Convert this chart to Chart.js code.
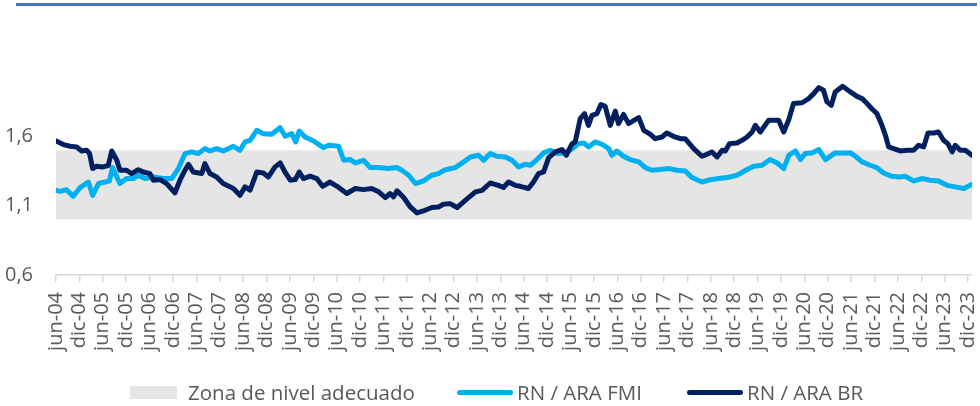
<!DOCTYPE html>
<html>
<head>
<meta charset="utf-8">
<script src="https://cdn.jsdelivr.net/npm/chart.js@4.4.1/dist/chart.umd.min.js"></script>
<style>
  html, body { margin: 0; padding: 0; background: #fff; }
  #wrap { position: relative; width: 980px; height: 406px; overflow: hidden; font-family: "Open Sans", sans-serif; color: #595959; }
  #topline { position: absolute; left: 16px; top: 3px; width: 961px; height: 3px; background: #4472C4; }
  canvas { position: absolute; left: 0; top: 0; }
  .lg { position: absolute; top: 380px; height: 24px; line-height: 24px; font-size: 20.5px; white-space: nowrap; }
  .box { position: absolute; top: 386px; left: 130px; width: 47px; height: 13px; background: #E5E5E5; }
  .ln { position: absolute; top: 390px; height: 5px; border-radius: 3px; }
</style>
</head>
<body>
<div id="wrap">
  <div id="topline"></div>
  <canvas id="c" width="980" height="406"></canvas>
  <div class="box"></div>
  <div class="lg" style="left:188px">Zona de nivel adecuado</div>
  <div class="ln" style="left:457px;width:56px;background:#00B0F0"></div>
  <div class="lg" style="left:517px">RN / ARA FMI</div>
  <div class="ln" style="left:687px;width:56px;background:#002060"></div>
  <div class="lg" style="left:747px">RN / ARA BR</div>
</div>
<script>
// Tick labels (every 6 months, from jun-04 to dic-23)
const xTickLabels = ["jun-04","dic-04","jun-05","dic-05","jun-06","dic-06","jun-07","dic-07","jun-08","dic-08",
  "jun-09","dic-09","jun-10","dic-10","jun-11","dic-11","jun-12","dic-12","jun-13","dic-13",
  "jun-14","dic-14","jun-15","dic-15","jun-16","dic-16","jun-17","dic-17","jun-18","dic-18",
  "jun-19","dic-19","jun-20","dic-20","jun-21","dic-21","jun-22","dic-22","jun-23","dic-23"];
const yTicks = [0.6, 1.1, 1.6];

// Zone of adequate level
const zoneLow = 1.0;
const zoneHigh = 1.5;

// RN / ARA BR : months since jun-04, values
const brMonths = [0,1.9,3.6,5.3,6.6,7.9,8.6,9.4,10.4,12.1,13.4,14.3,15.6,16.4,18.1,19.4,21.1,22.4,24.1,25.0,26.7,28.4,30.5,31.8,33.1,34.0,35.2,37.4,38.2,39.5,41.2,42.9,45.5,47.2,48.5,49.8,51.5,53.2,54.5,56.2,57.5,58.8,60.1,61.4,62.4,63.5,65.2,66.9,68.4,70.3,72.1,74.6,76.8,78.9,81.0,82.8,84.5,85.7,86.6,87.5,89.2,90.9,92.6,94.7,96.4,98.1,99.4,101.1,102.9,105.0,107.6,109.3,111.4,113.5,114.8,116.1,117.8,119.1,121.2,122.5,123.8,125.1,126.4,128.1,129.8,130.9,132.4,133.2,134.5,135.6,136.6,137.5,138.8,139.8,140.9,142.2,143.5,144.3,145.6,146.9,148.6,149.5,150.8,152.5,153.7,155.5,156.7,158.4,160.2,161.4,163.6,165.7,167.0,168.3,169.6,170.9,171.7,172.8,174.7,176.0,177.3,178.6,179.4,180.7,182.8,185.4,186.7,188.0,189.2,191.4,193.1,194.4,195.7,196.9,197.8,198.9,199.9,201.8,203.8,205.5,206.8,208.1,209.3,210.6,211.9,212.8,213.6,214.9,216.6,218.3,220.0,221.3,222.6,223.7,225.2,226.4,227.7,228.8,229.9,230.7,232.0,233.3,235];
const brValues = [1.567,1.541,1.529,1.524,1.495,1.500,1.476,1.368,1.385,1.380,1.390,1.495,1.428,1.356,1.356,1.332,1.360,1.343,1.332,1.284,1.289,1.260,1.192,1.284,1.356,1.399,1.343,1.332,1.404,1.332,1.308,1.260,1.224,1.175,1.236,1.212,1.343,1.336,1.308,1.380,1.409,1.340,1.284,1.289,1.343,1.296,1.313,1.296,1.240,1.271,1.240,1.188,1.224,1.216,1.224,1.200,1.159,1.188,1.164,1.207,1.159,1.091,1.048,1.067,1.087,1.091,1.110,1.115,1.087,1.139,1.200,1.211,1.264,1.247,1.231,1.271,1.247,1.240,1.224,1.271,1.332,1.344,1.447,1.488,1.505,1.464,1.548,1.560,1.729,1.765,1.680,1.752,1.765,1.830,1.817,1.680,1.783,1.693,1.759,1.693,1.721,1.736,1.644,1.615,1.584,1.596,1.625,1.601,1.584,1.584,1.512,1.457,1.471,1.488,1.452,1.500,1.495,1.548,1.553,1.572,1.596,1.632,1.680,1.632,1.716,1.716,1.632,1.721,1.837,1.843,1.873,1.909,1.952,1.933,1.849,1.824,1.921,1.962,1.921,1.889,1.873,1.837,1.800,1.765,1.680,1.608,1.524,1.512,1.495,1.500,1.500,1.536,1.524,1.625,1.625,1.632,1.572,1.548,1.488,1.536,1.500,1.500,1.464];

// RN / ARA FMI : months since jun-04, values
const fmiMonths = [0,1.0,2.7,4.4,6.2,8.3,9.4,10.9,12.6,13.7,14.5,15.6,16.4,18.1,19.8,21.1,22.8,25.0,27.5,29.7,31.4,33.1,34.8,36.5,38.2,39.5,41.2,42.9,45.5,47.2,48.5,49.8,51.5,53.2,55.3,57.5,58.8,60.5,61.5,62.4,63.9,66.1,68.6,69.9,72.5,73.8,75.5,76.8,78.9,80.6,82.8,85.3,87.5,88.7,90.5,92.2,94.3,96.4,98.1,99.9,102.4,104.6,106.3,108.4,109.7,111.4,113.1,115.3,117.0,118.7,120.4,121.7,123.4,125.1,126.8,128.5,130.2,131.9,134.1,135.4,136.6,138.3,140.1,141.8,142.6,143.9,145.6,147.3,149.5,151.2,152.9,155.0,157.2,159.3,161.4,163.2,165.7,167.9,170.0,172.1,174.7,177.3,179.0,181.1,183.2,185.0,186.7,188.0,189.7,191.0,192.2,193.9,195.7,197.4,199.9,202.1,203.8,205.1,206.8,208.9,210.6,212.3,214.5,216.2,217.9,220.0,222.2,224.3,226.4,228.6,230.7,232.9,235];
const fmiValues = [1.211,1.204,1.216,1.168,1.231,1.271,1.175,1.260,1.271,1.279,1.375,1.308,1.260,1.296,1.296,1.320,1.296,1.308,1.296,1.296,1.368,1.476,1.488,1.476,1.512,1.495,1.512,1.495,1.529,1.500,1.560,1.572,1.644,1.620,1.615,1.663,1.601,1.620,1.560,1.639,1.596,1.567,1.519,1.536,1.529,1.428,1.433,1.409,1.428,1.375,1.375,1.368,1.375,1.356,1.320,1.260,1.279,1.320,1.332,1.360,1.375,1.416,1.452,1.464,1.428,1.476,1.457,1.452,1.428,1.380,1.399,1.392,1.433,1.481,1.500,1.476,1.481,1.500,1.548,1.553,1.524,1.560,1.543,1.512,1.464,1.495,1.457,1.433,1.416,1.375,1.356,1.361,1.368,1.356,1.351,1.303,1.271,1.288,1.296,1.303,1.320,1.361,1.385,1.392,1.433,1.409,1.368,1.464,1.495,1.433,1.476,1.481,1.505,1.433,1.481,1.481,1.481,1.457,1.416,1.392,1.375,1.336,1.312,1.308,1.312,1.279,1.296,1.284,1.279,1.247,1.236,1.224,1.255];

const xMax = 235;
const pts = (xs, ys) => xs.map((x, i) => ({ x: x, y: ys[i] }));

new Chart(document.getElementById('c'), {
  type: 'line',
  data: {
    datasets: [
      { label: 'RN / ARA BR', data: pts(brMonths, brValues), borderColor: '#002060', borderWidth: 5,
        pointRadius: 0, tension: 0, borderJoinStyle: 'round', borderCapStyle: 'round', fill: false },
      { label: 'RN / ARA FMI', data: pts(fmiMonths, fmiValues), borderColor: '#00B0F0', borderWidth: 5,
        pointRadius: 0, tension: 0, borderJoinStyle: 'round', borderCapStyle: 'round', fill: false },
      { label: 'Zona de nivel adecuado', data: [{ x: 0, y: zoneHigh }, { x: xMax, y: zoneHigh }],
        borderWidth: 0, borderColor: 'rgba(0,0,0,0)', backgroundColor: '#E5E5E5',
        pointRadius: 0, fill: { value: zoneLow } }
    ]
  },
  options: {
    responsive: false,
    animation: false,
    layout: { padding: { left: 0, right: 8, top: 81, bottom: 41 } },
    plugins: { legend: { display: false }, tooltip: { enabled: false } },
    scales: {
      x: {
        type: 'linear', min: 0, max: xMax,
        afterBuildTicks: (s) => { s.ticks = xTickLabels.map((_, i) => ({ value: i * 6 })); },
        afterFit: (s) => { s.height = 90; s.paddingLeft = 0; s.paddingRight = 0; },
        grid: { drawOnChartArea: false, drawTicks: true, tickLength: 7, color: '#D9D9D9', lineWidth: 1.5 },
        border: { display: true, color: '#D9D9D9', width: 1.5 },
        ticks: {
          autoSkip: false, minRotation: 90, maxRotation: 90, padding: 10,
          color: '#595959', font: { family: 'Open Sans', size: 20 },
          callback: (v, i) => xTickLabels[i]
        }
      },
      y: {
        min: 0.6, max: 2.0,
        afterBuildTicks: (s) => { s.ticks = yTicks.map(v => ({ value: v })); },
        afterFit: (s) => { s.width = 56; },
        grid: { display: false, drawTicks: false },
        border: { display: false },
        ticks: {
          padding: 23, color: '#595959', font: { family: 'Open Sans', size: 20 },
          callback: (v) => v.toFixed(1).replace('.', ',')
        }
      }
    }
  }
});
</script>
</body>
</html>
